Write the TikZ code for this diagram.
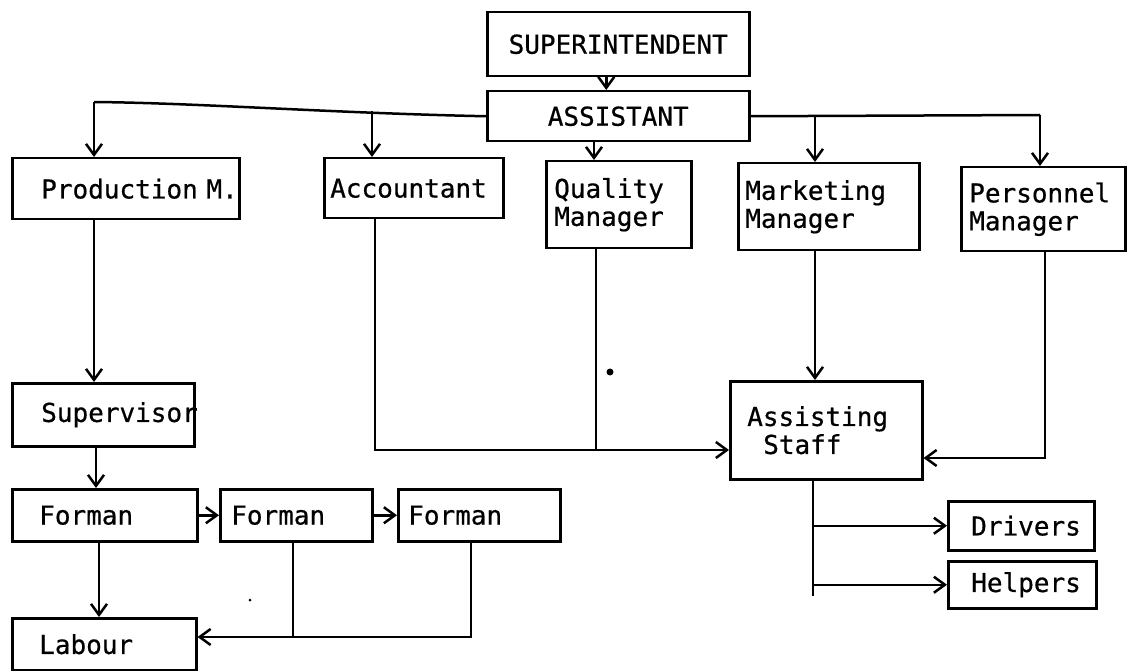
\documentclass[tikz,border=0pt]{standalone}
\usepackage{fontspec}
\newfontfamily\typewriter[FakeBold=0.6]{DejaVu Sans Mono}
\usetikzlibrary{arrows.meta}

\begin{document}
\begin{tikzpicture}[x=1pt,y=-1pt,
  line width=2.5pt,
  >={Straight Barb[length=11pt,width=16pt]},
  arr/.style={->},
  box/.style={draw, rectangle, anchor=north west, align=left,
    inner ysep=0pt, font=\typewriter\fontsize{26}{28}\selectfont},
  cbox/.style={box, align=center}]
\useasboundingbox (0,0) rectangle (1133,671);

% top of the chart
\node[cbox, minimum width=262pt, minimum height=64pt] (sup) at (486,11) {SUPERINTENDENT};
\node[cbox, minimum width=262pt, minimum height=50pt] (asst) at (486,90) {ASSISTANT};

% managers
\node[box, minimum height=61pt, inner xsep=29pt, text width=169pt] (prod) at (11,157) {\mbox{Production M.}};
\node[box, minimum height=60pt, inner xsep=6pt, text width=167pt] (acc) at (323,157) {Accountant};
\node[box, minimum height=87pt, inner xsep=8pt, text width=129pt] (qual) at (545,160) {Quality\\Manager};
\node[box, minimum height=87pt, inner xsep=7pt, text width=167pt] (mkt) at (737,162) {Marketing\\Manager};
\node[box, minimum height=84pt, inner xsep=8pt, text width=148pt] (pers) at (960,166) {Personnel\\Manager};

% production line
\node[box, minimum height=63pt, inner xsep=29pt, text width=124pt] (supv) at (11,382) {Supervisor};
\node[box, minimum height=52pt, inner xsep=27pt, text width=131pt] (f1) at (11,488) {Forman};
\node[box, minimum height=52pt, inner xsep=11pt, text width=130pt] (f2) at (219,488) {Forman};
\node[box, minimum height=52pt, inner xsep=10pt, text width=142pt] (f3) at (397,488) {Forman};
\node[box, minimum height=52pt, inner xsep=27pt, text width=130pt] (lab) at (11,617) {Labour};

% staff
\node[box, minimum height=98pt, inner xsep=17pt, text width=158pt] (staff) at (729,380) {Assisting\\\hspace*{16pt}Staff};
\node[box, minimum height=49pt, inner xsep=23pt, text width=100pt] (drv) at (947,500) {Drivers};
\node[box, minimum height=47pt, inner xsep=23pt, text width=102pt] (help) at (947,560) {Helpers};

% branch points
\coordinate (lt) at (94,102);
\coordinate (ac) at (372,111);
\coordinate (qx) at (594,0);
\coordinate (mk) at (815,115);
\coordinate (rt) at (1040,115);
\coordinate (sx) at (813,0);

% superintendent to assistant
\draw[arr] ([xshift=-12pt]sup.south) -- ([xshift=-12pt]asst.north);

% assistant to the managers
\draw (asst.west) .. controls (330,113) and (200,103) .. (lt);
\draw[arr] (lt) -- (lt |- prod.north);
\draw[arr] (ac) -- (ac |- acc.north);
\draw[arr] (asst.south -| qx) -- (qx |- qual.north);
\draw (asst.east) -- (rt);
\draw[arr] (mk) -- (mk |- mkt.north);
\draw[arr] (rt) -- (rt |- pers.north);

% production chain
\draw[arr] (prod.south -| lt) -- (supv.north -| lt);
\draw[arr] (supv.south -| 96,0) -- (f1.north -| 96,0);
\draw[arr] (f1.east) -- (f2.west);
\draw[arr] (f2.east) -- (f3.west);
\draw[arr] (f1.south -| 99,0) -- (lab.north -| 99,0);
\draw (f2.south -| 293,0) -- (293,637);
\draw[arr] (f3.south -| 471,0) |- (lab.east |- 0,637);

% managers to assisting staff
\draw[arr] (acc.south -| 375,0) |- (staff.west |- 0,450);
\draw (qual.south -| 596,0) -- (596,450);
\draw[arr] (mkt.south -| mk) -- (staff.north -| mk);
\draw[arr] (pers.south -| 1045,0) |- (staff.east |- 0,458);

% assisting staff to drivers and helpers
\draw (staff.south -| sx) -- (813,596);
\draw[arr] (drv.west -| sx) -- (drv.west);
\draw[arr] (help.west -| sx) -- (help.west);

% specks
\fill (610,372) circle (3.5);
\fill (250,600) circle (1.5);
\end{tikzpicture}
\end{document}
